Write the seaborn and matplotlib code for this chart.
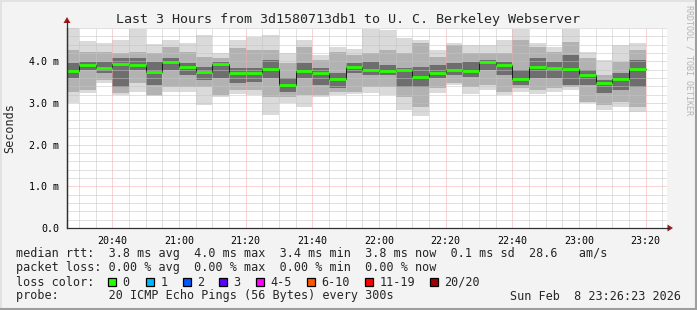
import numpy as np
import pandas as pd
import matplotlib
matplotlib.use("Agg")
import matplotlib.pyplot as plt
import seaborn as sns
from matplotlib.patches import Rectangle, Polygon
from matplotlib.lines import Line2D
from matplotlib.ticker import MultipleLocator, FixedLocator, FuncFormatter

# ---------------- data (values in milliseconds) ----------------
bar_end = pd.date_range("2026-02-08 20:30", "2026-02-08 23:20", freq="5min")
median = [3.78, 3.90, 3.85, 3.94, 3.92, 3.75, 3.99, 3.87, 3.75, 3.94,
          3.73, 3.73, 3.82, 3.44, 3.78, 3.73, 3.58, 3.87, 3.80, 3.78,
          3.80, 3.63, 3.73, 3.80, 3.78, 3.99, 3.92, 3.58, 3.87, 3.85,
          3.82, 3.66, 3.49, 3.58, 3.82]
smoke_max = [4.79, 4.49, 4.43, 4.51, 4.78, 4.42, 4.51, 4.45, 4.63, 4.21,
             4.51, 4.59, 4.63, 4.19, 4.51, 4.15, 4.35, 4.29, 4.78, 4.75,
             4.55, 4.50, 4.26, 4.43, 4.39, 4.39, 4.51, 4.78, 4.43, 4.35,
             4.78, 4.22, 4.03, 4.39, 4.43]
smoke_min = [2.99, 3.25, 3.47, 3.19, 3.27, 3.17, 3.27, 3.27, 2.95, 3.15,
             3.22, 3.19, 2.71, 2.99, 2.91, 3.14, 3.19, 3.22, 3.25, 3.19,
             2.83, 2.69, 3.25, 3.43, 3.22, 3.31, 3.19, 3.27, 3.22, 3.27,
             3.31, 2.99, 2.83, 2.90, 2.79]
mid_hi = [4.27, 4.23, 4.23, 4.20, 4.23, 4.20, 4.35, 4.23, 4.11, 4.08,
          4.32, 4.27, 4.27, 3.96, 4.35, 4.03, 4.23, 4.15, 4.20, 4.27,
          4.20, 4.43, 4.11, 4.39, 4.20, 4.20, 4.20, 4.51, 4.35, 4.23,
          4.47, 4.07, 3.67, 3.99, 4.27]
mid_lo = [3.27, 3.31, 3.55, 3.23, 3.48, 3.19, 3.39, 3.39, 3.39, 3.19,
          3.31, 3.31, 3.15, 3.15, 3.19, 3.19, 3.27, 3.27, 3.39, 3.39,
          3.15, 2.91, 3.35, 3.47, 3.39, 3.43, 3.27, 3.35, 3.31, 3.35,
          3.39, 3.03, 2.95, 3.03, 2.91]
core_hi = [3.96, 3.99, 3.99, 4.08, 4.08, 3.99, 4.08, 3.96, 3.87, 3.99,
           3.84, 3.84, 4.03, 3.60, 3.96, 3.84, 3.72, 3.96, 3.99, 3.91,
           3.84, 3.87, 3.91, 3.96, 3.99, 4.03, 3.99, 3.79, 4.08, 3.99,
           4.15, 3.79, 3.55, 3.71, 4.03]
core_lo = [3.60, 3.79, 3.72, 3.39, 3.79, 3.43, 3.79, 3.67, 3.55, 3.60,
           3.48, 3.51, 3.60, 3.27, 3.60, 3.43, 3.35, 3.72, 3.67, 3.67,
           3.39, 3.39, 3.60, 3.67, 3.63, 3.79, 3.67, 3.43, 3.60, 3.60,
           3.43, 3.43, 3.23, 3.31, 3.39]

tick_labels = ["20:40", "21:00", "21:20", "21:40", "22:00", "22:20", "22:40", "23:00", "23:20"]
title = "Last 3 Hours from 3d1580713db1 to U. C. Berkeley Webserver"
line_rtt = "median rtt:  3.8 ms avg  4.0 ms max  3.4 ms min  3.8 ms now  0.1 ms sd  28.6   am/s"
line_loss = "packet loss: 0.00 % avg  0.00 % max  0.00 % min  0.00 % now"
loss_labels = ["0", "1", "2", "3", "4-5", "6-10", "11-19", "20/20"]
loss_colors = ["#26ff00", "#00b8ff", "#0059ff", "#5e00ff", "#ff00ff", "#ff5500", "#ff0000", "#a10000"]
line_probe = "probe:       20 ICMP Echo Pings (56 Bytes) every 300s"
stamp = "Sun Feb  8 23:26:23 2026"

# ---------------- style ----------------
sns.set_style("white")
MONO = "DejaVu Sans Mono"
plt.rcParams["font.family"] = [MONO, "DejaVu Sans"]

W, H = 697, 310
fig = plt.figure(figsize=(W / 100, H / 100), dpi=100, facecolor="#f3f3f3")


def fx(x):
    return x / W


def fy(y):
    return 1 - y / H


ax = fig.add_axes([fx(67), fy(228), 600 / W, 200 / H])
ax.set_facecolor("white")

base = pd.Timestamp("2026-02-08 20:00")
x_end = np.array((bar_end - base).total_seconds() / 60.0)
x_start = x_end - 5.0
width = x_end - x_start

med = np.array(median)
smax, smin = np.array(smoke_max), np.array(smoke_min)
mhi, mlo = np.array(mid_hi), np.array(mid_lo)
chi, clo = np.array(core_hi), np.array(core_lo)

# smoke bands
ax.bar(x_start, smax - smin, width=width, bottom=smin, align="edge",
       color="#dadada", linewidth=0, zorder=1)
ax.bar(x_start, mhi - mlo, width=width, bottom=mlo, align="edge",
       color="#b2b2b2", linewidth=0, zorder=1.1)
ax.bar(x_start, chi - clo, width=width, bottom=clo, align="edge",
       color="#6e6e6e", linewidth=0, zorder=1.2)

# median step (dark connectors) and green segments
step_df = pd.DataFrame({"t": np.concatenate([[x_start[0]], x_end]),
                        "v": np.concatenate([[med[0]], med])})
sns.lineplot(data=step_df, x="t", y="v", drawstyle="steps-pre", color="#1a1a1a",
             lw=0.7, ax=ax, zorder=3, legend=False, estimator=None)
ax.hlines(med, x_start, x_end, color="#26ff00", lw=2.0, zorder=4)

t0 = (pd.Timestamp("2026-02-08 20:26:23") - base).total_seconds() / 60.0
ax.set_xlim(t0, t0 + 180)
ax.set_ylim(0, 4.8)

major_x = [40 + 20 * i for i in range(len(tick_labels))]
ax.xaxis.set_major_locator(FixedLocator(major_x))
ax.set_xticklabels(tick_labels)
ax.xaxis.set_minor_locator(MultipleLocator(5))
ax.yaxis.set_major_locator(MultipleLocator(1.0))
ax.yaxis.set_minor_locator(MultipleLocator(0.2))
ax.yaxis.set_major_formatter(FuncFormatter(lambda v, p: "0.0" if abs(v) < 1e-9 else f"{v:.1f} m"))

ax.set_axisbelow(False)
ax.grid(which="minor", color="#c4c4c4", lw=0.72, linestyle=(0, (1, 1)))
ax.grid(which="major", color="#f2abab", lw=0.72, linestyle=(0, (1, 1)))
ax.set_xlabel("")
ax.set_ylabel("")

for s in ["top", "right"]:
    ax.spines[s].set_visible(False)
for s in ["left", "bottom"]:
    ax.spines[s].set_color("#303030")
    ax.spines[s].set_linewidth(0.9)
    ax.spines[s].set_zorder(5)

ax.tick_params(axis="both", which="major", direction="out", length=3, width=0.7,
               color="#303030", labelsize=7.2, pad=2.5, labelcolor="black")
ax.tick_params(axis="both", which="minor", direction="out", length=2, width=0.7,
               color="#303030")
ax.tick_params(axis="x", which="major", pad=3)
for lab in ax.get_xticklabels() + ax.get_yticklabels():
    lab.set_fontfamily(MONO)

# axis extensions and arrows
fig.add_artist(Line2D([fx(67), fx(67)], [fy(228), fy(21)], color="#303030", lw=0.9))
fig.add_artist(Line2D([fx(667), fx(669)], [fy(228), fy(228)], color="#303030", lw=0.9))
fig.add_artist(Polygon([[fx(67), fy(17)], [fx(63.5), fy(23)], [fx(70.5), fy(23)]],
                       closed=True, transform=fig.transFigure, color="#9c1c1c", lw=0))
fig.add_artist(Polygon([[fx(673), fy(228)], [fx(667.5), fy(224.5)], [fx(667.5), fy(231.5)]],
                       closed=True, transform=fig.transFigure, color="#9c1c1c", lw=0))

# texts
fig.text(fx(348), fy(19), title, ha="center", va="center", fontsize=9.6, family=MONO)
fig.text(fx(10), fy(128), "Seconds", ha="center", va="center", rotation=90, fontsize=8.5, family=MONO)
fig.text(fx(689), fy(60), "RRDTOOL / TOBI OETIKER", ha="center", va="center", rotation=270,
         fontsize=6, family=MONO, color="#b4b4b4")

fig.text(fx(16), fy(254), line_rtt, ha="left", va="center", fontsize=8.5, family=MONO)
fig.text(fx(16), fy(268), line_loss, ha="left", va="center", fontsize=8.5, family=MONO)
fig.text(fx(16), fy(282), "loss color:", ha="left", va="center", fontsize=8.5, family=MONO)
box_x = [108, 146, 183, 219, 256, 307, 365, 430]
for bx, lbl, col in zip(box_x, loss_labels, loss_colors):
    fig.add_artist(Rectangle((fx(bx), fy(286)), 8 / W, 8 / H, transform=fig.transFigure,
                             facecolor=col, edgecolor="black", lw=0.9))
    fig.text(fx(bx + 14.5), fy(282), lbl, ha="left", va="center", fontsize=8.5, family=MONO)
fig.text(fx(16), fy(296), line_probe, ha="left", va="center", fontsize=8.5, family=MONO)
fig.text(fx(681), fy(296), stamp, ha="right", va="center", fontsize=8.5, family=MONO)

# 3D frame of the canvas
fig.add_artist(Line2D([0, 1], [fy(0.5), fy(0.5)], color="#e2e2e2", lw=1.4))
fig.add_artist(Line2D([fx(0.5), fx(0.5)], [0, 1], color="#e2e2e2", lw=1.4))
fig.add_artist(Line2D([0, 1], [fy(309), fy(309)], color="#9e9e9e", lw=1.5))
fig.add_artist(Line2D([fx(696), fx(696)], [0, 1], color="#9e9e9e", lw=1.5))

fig.savefig("out.png", dpi=100, facecolor=fig.get_facecolor())
